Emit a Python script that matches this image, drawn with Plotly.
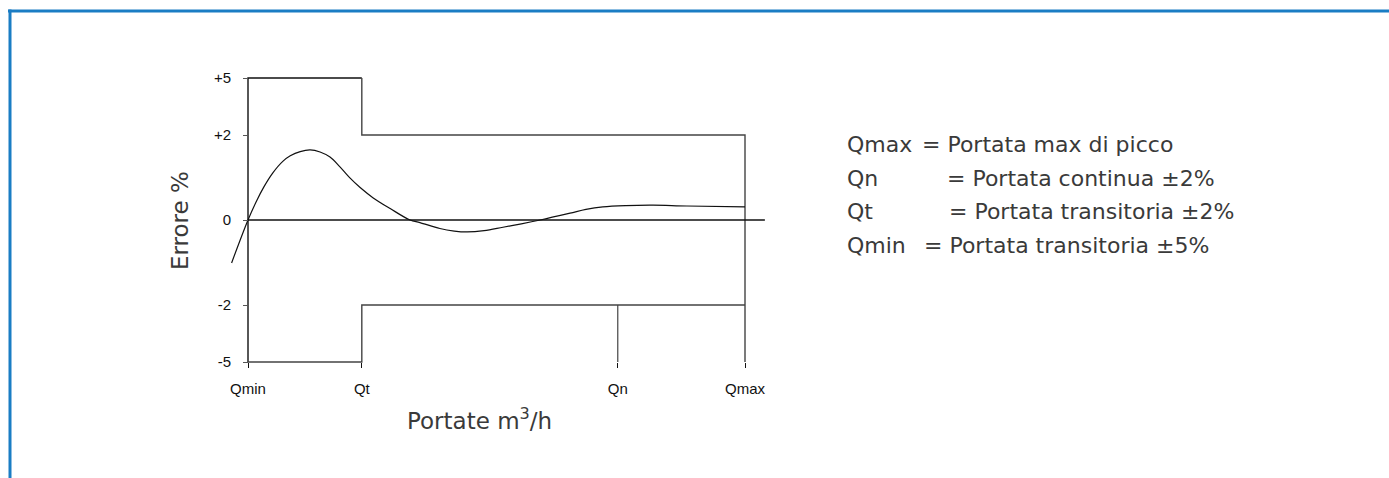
import plotly.graph_objects as go

# ---- data (display units) ----
tick_names = ["Qmin", "Qt", "Qn", "Qmax"]
tick_pos = [0.0, 22.9, 74.4, 100.0]          # flow positions (Qmin=0, Qmax=100)
y_ticks = [-5, -2, 0, 2, 5]
y_tick_text = ["-5", "-2", "0", "+2", "+5"]

curve_x = [-3.3, 0.0, 1.6, 3.2, 5.0, 7.0, 8.5, 10.5, 12.5, 14.5, 16.5, 18.5,
           20.5, 22.5, 25.2, 28.6, 32.6, 34.6, 38.6, 41.5, 44.1, 47.5, 51.3,
           55.0, 58.8, 64.8, 68.0, 71.4, 76.0, 81.5, 88.3, 100.0]
curve_y = [-1.01, 0.0, 0.42, 0.78, 1.11, 1.38, 1.51, 1.61, 1.65, 1.60, 1.48, 1.25,
           0.99, 0.77, 0.52, 0.27, 0.0, -0.06, -0.20, -0.26, -0.28, -0.25, -0.17,
           -0.09, 0.0, 0.16, 0.25, 0.31, 0.34, 0.35, 0.33, 0.31]

upper_x = [22.9, 22.9, 100.0, 100.0]
upper_y = [5, 2, 2, -5]
axis_x = [0.0, 0.0, 22.9]
axis_y = [-5, 5, 5]
lower_x = [0.0, 22.9, 22.9, 100.0]
lower_y = [-5, -5, -2, -2]
qn_x = [74.4, 74.4]
qn_y = [-2, -5]
zero_x = [0.0, 104.0]
zero_y = [0, 0]

legend_keys = ["Qmax", "Qn", "Qt", "Qmin"]
legend_vals = ["= Portata max di picco", "= Portata continua ±2%",
               "= Portata transitoria ±2%", "= Portata transitoria ±5%"]


def ymap(v):
    """Piecewise y scale: linear within ±2, compressed between 2 and 5."""
    a = abs(v)
    s = 1 if v >= 0 else -1
    if a <= 2:
        return v
    return s * (2 + (a - 2) * (57 / 42.5) / 3)


W, H = 1389, 478
fig = go.Figure()

line_col = "#444444"
fig.add_trace(go.Scatter(x=axis_x, y=[ymap(v) for v in axis_y], mode="lines",
                         line=dict(color="#111", width=1.4), hoverinfo="skip"))
fig.add_trace(go.Scatter(x=upper_x, y=[ymap(v) for v in upper_y], mode="lines",
                         line=dict(color=line_col, width=1.4), hoverinfo="skip"))
fig.add_trace(go.Scatter(x=lower_x, y=[ymap(v) for v in lower_y], mode="lines",
                         line=dict(color=line_col, width=1.4), hoverinfo="skip"))
fig.add_trace(go.Scatter(x=qn_x, y=[ymap(v) for v in qn_y], mode="lines",
                         line=dict(color=line_col, width=1.2), hoverinfo="skip"))
fig.add_trace(go.Scatter(x=zero_x, y=zero_y, mode="lines",
                         line=dict(color="#111", width=1.6), hoverinfo="skip"))
fig.add_trace(go.Scatter(x=curve_x, y=[ymap(v) for v in curve_y], mode="lines",
                         line=dict(color="#111", width=1.2, shape="spline", smoothing=1.0),
                         hoverinfo="skip"))

px_per_x = 4.97
x0px = 248
xlo = -x0px / px_per_x
xhi = (W - x0px) / px_per_x
px_per_y = 42.5
y0px = 220
yhi = y0px / px_per_y
ylo = -(H - y0px) / px_per_y

tick_font = dict(family="Liberation Sans, Arial, sans-serif", size=15, color="#111")

fig.update_layout(
    width=W, height=H,
    margin=dict(l=0, r=0, t=0, b=0),
    paper_bgcolor="white", plot_bgcolor="white",
    showlegend=False,
    xaxis=dict(range=[xlo, xhi], anchor="free", position=(H - 362) / H,
               showgrid=False, zeroline=False, showline=False,
               ticks="outside", ticklen=5, tickcolor="#111", tickwidth=1,
               tickvals=tick_pos, ticktext=tick_names, tickfont=tick_font,
               ticklabelstandoff=8, fixedrange=True),
    yaxis=dict(range=[ylo, yhi], anchor="free", position=x0px / W,
               showgrid=False, zeroline=False, showline=False,
               ticks="outside", ticklen=5, tickcolor="#555", tickwidth=1,
               tickvals=[ymap(v) for v in y_ticks], ticktext=y_tick_text,
               tickfont=tick_font, ticklabelstandoff=9, fixedrange=True),
)

blue = "#1a7dc4"
fig.add_shape(type="line", xref="paper", yref="paper",
              x0=8 / W, x1=1.0, y0=1 - 11 / H, y1=1 - 11 / H,
              line=dict(color=blue, width=3))
fig.add_shape(type="line", xref="paper", yref="paper",
              x0=10 / W, x1=10 / W, y0=1 - 9.5 / H, y1=0,
              line=dict(color=blue, width=3))

title_font = dict(family="DejaVu Sans, sans-serif", size=23, color="#3a3a3a")
fig.add_annotation(xref="paper", yref="paper", x=180 / W, y=1 - 221 / H,
                   xanchor="center", yanchor="middle",
                   text="Errore %", textangle=-90, showarrow=False, font=title_font)
fig.add_annotation(xref="paper", yref="paper", x=479 / W, y=1 - 419 / H,
                   xanchor="center", yanchor="middle",
                   text="Portate m<sup>3</sup>/h", showarrow=False, font=title_font)

leg_font = dict(family="DejaVu Sans, sans-serif", size=22, color="#3a3a3a")
leg_y = [144, 178, 212, 245]
eq_x = [920, 945, 947, 922]
for k, v, yy, ex in zip(legend_keys, legend_vals, leg_y, eq_x):
    fig.add_annotation(xref="paper", yref="paper", x=845 / W, y=1 - yy / H,
                       xanchor="left", yanchor="middle",
                       text=k, showarrow=False, font=leg_font)
    fig.add_annotation(xref="paper", yref="paper", x=ex / W, y=1 - yy / H,
                       xanchor="left", yanchor="middle",
                       text=v, showarrow=False, font=leg_font)

fig.write_html("out.html", config={"displayModeBar": False},
               post_script="document.body.style.margin='0px';"
                           "document.body.style.overflow='hidden';")
